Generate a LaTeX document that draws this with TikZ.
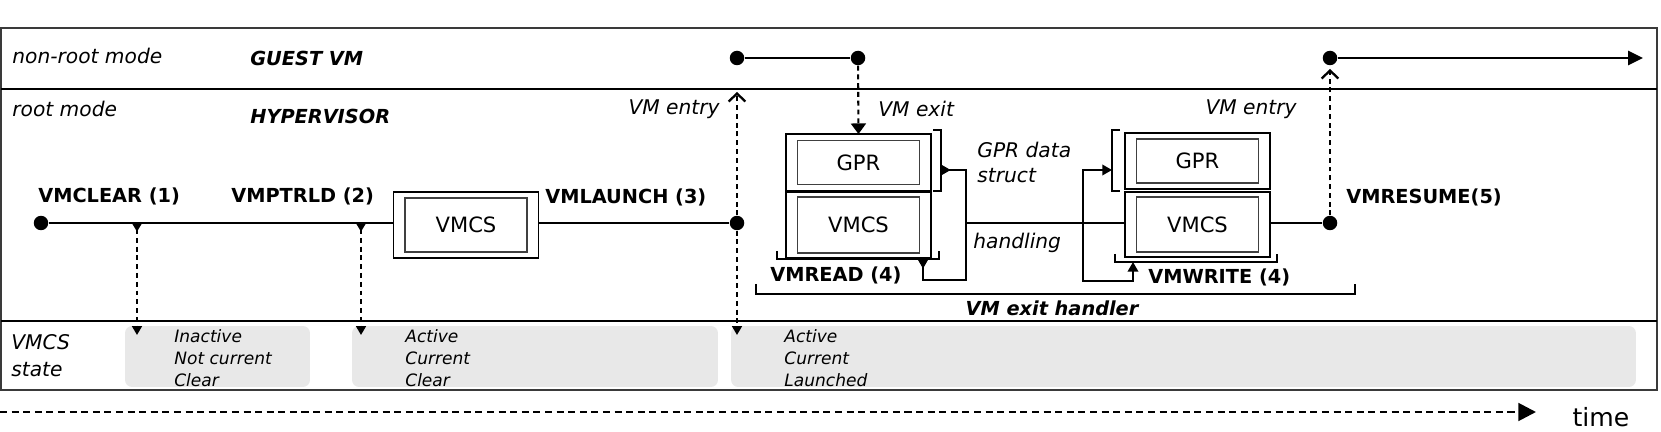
\documentclass[tikz,border=0pt]{standalone}
\usepackage{fontspec}
\setmainfont{DejaVu Sans}
\usetikzlibrary{arrows.meta,positioning}
\definecolor{Ink}{HTML}{000000}
\definecolor{Frame}{HTML}{3A3A3A}
\definecolor{BoxLine}{HTML}{404040}
\definecolor{StateFill}{HTML}{E8E8E8}

\begin{document}
\begin{tikzpicture}[x=.02cm,y=-.02cm,
  lab/.style={font=\fontsize{11}{13}\selectfont\bfseries,inner sep=0,anchor=west},
  title/.style={font=\fontsize{11}{13}\selectfont\bfseries\itshape,inner sep=0,anchor=west},
  note/.style={font=\fontsize{11.5}{14.2}\selectfont\itshape,inner sep=0,anchor=west,align=left},
  state/.style={font=\fontsize{9.7}{12.5}\selectfont\itshape,inner sep=0,anchor=west,align=left},
  dot/.style={circle,fill=Ink,inner sep=0,minimum size=.29cm},
  outerbox/.style={draw=Ink,line width=.6pt,inner sep=0,outer sep=0,minimum width=2.9cm},
  innerbox/.style={draw=BoxLine,line width=1pt,inner sep=0,minimum width=2.44cm,font=\fontsize{12}{14}\selectfont},
  statebox/.style={fill=StateFill,rounded corners=4pt,inner sep=0,minimum height=1.22cm},
  flow/.style={line width=1.35pt},
  link/.style={line width=1.05pt},
  brk/.style={line width=1.5pt},
  jump/.style={line width=1.2pt,dash pattern=on 2.8pt off 2.2pt}]
\useasboundingbox (0,0) rectangle (1661,432);

\draw[Frame,line width=.7pt] (1,28) rectangle (1657,390);
\draw[line width=1.5pt] (1,89) -- (1657,89);
\draw[line width=1.5pt] (1,321) -- (1657,321);

\node[note] (nonrootLab) at (12,56) {non-root mode};
\node[title] (guestLab) at (250,58) {GUEST VM};
\node[note] (rootLab) at (12,109) {root mode};
\node[title] (hvLab) at (250,116) {HYPERVISOR};
\node[note,font=\fontsize{11.5}{15.3}\selectfont\itshape] (stateLab) at (11,356) {VMCS\\state};

\node[statebox,minimum width=3.7cm] (clearState) at (217.5,356.5) {};
\node[statebox,minimum width=7.32cm] (currentState) at (535,356.5) {};
\node[statebox,minimum width=18.1cm] (launchedState) at (1183.5,356.5) {};
\node[state] (clearTxt) at (174,358) {Inactive\\Not current\\Clear};
\node[state] (currentTxt) at (405,358) {Active\\Current\\Clear};
\node[state] (launchedTxt) at (784,358) {Active\\Current\\Launched};

\node[dot] (enter1) at (737,58) {};
\node[dot] (leave1) at (858,58) {};
\node[dot] (enter2) at (1330,58) {};
\coordinate (guestEnd) at (1643,58);
\draw[flow] (enter1) -- (leave1);
\draw[flow,-{Triangle[length=8.5pt,width=8pt]}] (enter2) -- (guestEnd);

\node[dot] (clearDot) at (41,223) {};
\node[dot] (launchDot) at (737,223) {};
\node[dot] (resumeDot) at (1330,223) {};

\node[outerbox,minimum height=1.32cm] (launchOuter) at (466,225) {};
\node[innerbox,minimum height=1.08cm] (launchVmcs) at (launchOuter) {VMCS};
\node[outerbox,minimum height=1.14cm] (readGprOuter) at (858.5,162.5) {};
\node[innerbox,minimum height=.88cm] (readGpr) at (readGprOuter) {GPR};
\node[outerbox,minimum height=1.32cm] (readVmcsOuter) at (858.5,225) {};
\node[innerbox,minimum height=1.12cm] (readVmcs) at (readVmcsOuter) {VMCS};
\node[outerbox,minimum height=1.12cm] (writeGprOuter) at (1197.5,161) {};
\node[innerbox,minimum height=.88cm] (writeGpr) at (writeGprOuter) {GPR};
\node[outerbox,minimum height=1.3cm] (writeVmcsOuter) at (1197.5,224.5) {};
\node[innerbox,minimum height=1.1cm] (writeVmcs) at (writeVmcsOuter) {VMCS};

\coordinate (handleJoin) at (966,223);
\coordinate (writeJoin) at (1083,223);
\draw[flow] (clearDot) -- (clearDot -| launchOuter.west);
\draw[flow] (launchOuter.east |- launchDot) -- (launchDot);
\draw[flow] (handleJoin) -- (handleJoin -| writeVmcsOuter.west);
\draw[flow] (writeVmcsOuter.east |- resumeDot) -- (resumeDot);

\node[lab] (clearLab) at (38,196) {VMCLEAR (1)};
\node[lab] (ptrldLab) at (231,196) {VMPTRLD (2)};
\node[lab] (launchLab) at (545,197) {VMLAUNCH (3)};
\node[lab] (resumeLab) at (1346,197) {VMRESUME(5)};
\node[lab] (readLab) at (770,275) {VMREAD (4)};
\node[lab] (writeLab) at (1148,277) {VMWRITE (4)};
\node[title,anchor=center] (handlerLab) at (1052,308) {VM exit handler};

\node[note,anchor=east] (entryLabA) at (720,109) {VM entry};
\node[note] (exitLab) at (878,109) {VM exit};
\node[note,anchor=east] (entryLabB) at (1297,109) {VM entry};
\node[note] (gprLab) at (977,162) {GPR data\\struct};
\node[note] (handleLab) at (973,243) {handling};

\coordinate (clearTap) at (137,223);
\coordinate (clearHit) at (137,335);
\coordinate (ptrldTap) at (361,223);
\coordinate (ptrldHit) at (361,335);
\coordinate (launchHit) at (737,335);
\coordinate (entryTipA) at (737,92);
\coordinate (entryTipB) at (1330,69);
\draw[jump,{Triangle[length=5pt,width=5.5pt,reversed]}-{Triangle[length=5pt,width=5.5pt]}] (clearTap) -- (clearHit);
\draw[jump,{Triangle[length=5pt,width=5.5pt,reversed]}-{Triangle[length=5pt,width=5.5pt]}] (ptrldTap) -- (ptrldHit);
\draw[jump,-{Triangle[length=5pt,width=5.5pt]}] (launchDot) -- (launchHit);
\draw[jump,-{Straight Barb[length=4.5pt,width=9.5pt,line width=1.3pt]}] (launchDot) -- (entryTipA);
\draw[jump,-{Triangle[length=6pt,width=8.5pt]}] (leave1) -- (readGprOuter.north);
\draw[jump,-{Straight Barb[length=4.5pt,width=9.5pt,line width=1.3pt]}] (resumeDot) -- (entryTipB);

\draw[brk] (777,251) -- (777,259) -- (939,259) -- (939,251);
\draw[brk] (933,130) -- (941,130) -- (941,191) -- (933,191);
\draw[brk] (1120,130) -- (1112,130) -- (1112,191) -- (1120,191);
\draw[brk] (1115,254) -- (1115,262) -- (1277,262) -- (1277,254);
\draw[line width=1.4pt] (756,284) -- (756,294) -- (1355,294) -- (1355,284);

\coordinate (gprMarkA) at (941,170);
\coordinate (readMark) at (923,259);
\coordinate (readTurn) at (966,280);
\coordinate (gprMarkB) at (1112,170);
\coordinate (writeMark) at (1133,262);
\coordinate (writeTurn) at (1133,281);
\draw[link,{Triangle[length=5.5pt,width=6pt,reversed]}-] (gprMarkA) -| (handleJoin);
\draw[link,{Triangle[length=5.5pt,width=6pt,reversed]}-] (readMark) |- (readTurn) -- (handleJoin);
\draw[link,-{Triangle[length=5.5pt,width=6pt]}] (writeJoin) |- (gprMarkB);
\draw[link,-{Triangle[length=5.5pt,width=6pt]}] (writeJoin) |- (writeTurn) -- (writeMark);

\coordinate (timeStart) at (0,412);
\coordinate (timeEnd) at (1536,412);
\draw[line width=1.6pt,dash pattern=on 4pt off 2.6pt,-{Triangle[length=10pt,width=10pt]}] (timeStart) -- (timeEnd);
\node[font=\fontsize{14.3}{16}\selectfont] (timeLab) at (1601,417) {time};
\end{tikzpicture}
\end{document}
